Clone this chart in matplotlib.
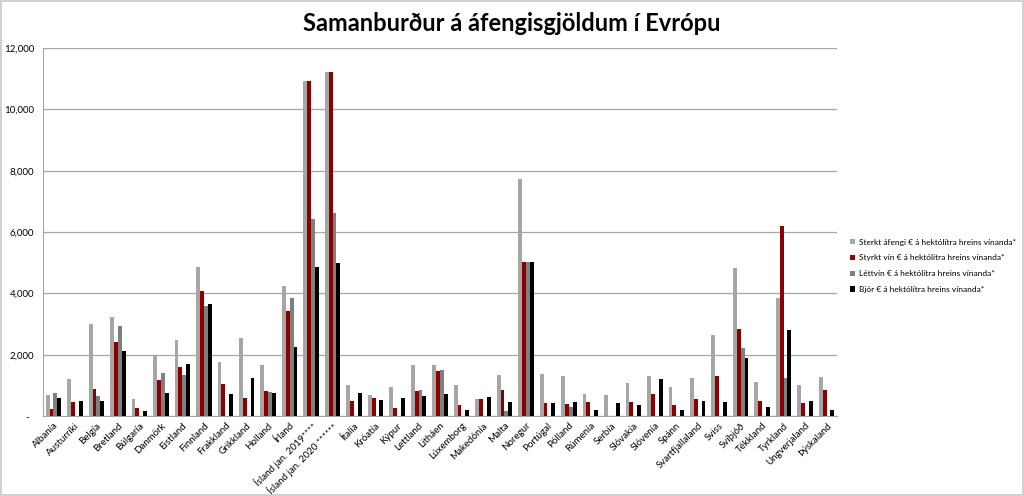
import matplotlib
matplotlib.use('Agg')
import matplotlib.pyplot as plt
from matplotlib.ticker import FuncFormatter
import numpy as np

plt.rcParams['font.family'] = ['Lato', 'DejaVu Sans']

countries = ['Albanía', 'Austurríki', 'Belgía', 'Bretland', 'Búlgaría', 'Danmörk', 'Eistland',
             'Finnland', 'Frakkland', 'Grikkland', 'Holland', 'Írland', 'Ísland jan. 2019****',
             'Ísland jan. 2020 ******', 'Ítalía', 'Króatía', 'Kýpur', 'Lettland', 'Litháen',
             'Lúxemborg', 'Makedónía', 'Malta', 'Noregur', 'Portúgal', 'Pólland', 'Rúmenía',
             'Serbía', 'Slóvakía', 'Slóvenía', 'Spánn', 'Svartfjallaland', 'Sviss', 'Svíþjóð',
             'Tékkland', 'Tyrkland', 'Ungverjaland', 'Þýskaland']

# € per hectolitre of pure alcohol
sterkt = [675, 1196, 2990, 3218, 554, 1978, 2489, 4859, 1750, 2533, 1663, 4250, 10924,
          11207, 1022, 696, 946, 1652, 1652, 1022, 543, 1337, 7729, 1370, 1304, 707,
          685, 1076, 1304, 946, 1239, 2641, 4837, 1109, 3837, 1000, 1283]
styrkt = [240, 446, 880, 2402, 250, 1163, 1598, 4076, 1054, 587, 815, 3413, 10924,
          11207, 478, 587, 250, 815, 1457, 359, 543, 837, 5033, 413, 391, 467,
          0, 456, 728, 348, 554, 1320, 2837, 500, 6210, 413, 848]
lettvin = [739, 0, 663, 2935, 0, 1402, 1337, 3587, 0, 0, 783, 3848, 6413,
           6609, 0, 0, 0, 837, 1489, 0, 0, 174, 5033, 0, 304, 0,
           0, 0, 0, 0, 0, 0, 2228, 0, 1250, 0, 0]
bjor = [576, 500, 500, 2130, 174, 739, 1685, 3641, 728, 1228, 739, 2239, 4859,
        4989, 739, 522, 587, 663, 707, 196, 636, 467, 5033, 413, 446, 185,
        413, 348, 1196, 196, 500, 456, 1885, 300, 2800, 489, 196]

series = [
    ('Sterkt áfengi € á hektólítra hreins vínanda*', sterkt, '#a6a6a6'),
    ('Styrkt vín € á hektólítra hreins vínanda*', styrkt, '#8b0000'),
    ('Léttvín € á hektólítra hreins vínanda*', lettvin, '#7f7f7f'),
    ('Bjór € á hektólítra hreins vínanda*', bjor, '#000000'),
]

fig = plt.figure(figsize=(10.24, 4.96), dpi=100, edgecolor='#d0d0d0', linewidth=1.5)
ax = fig.add_axes([0.0417, 0.161, 0.776, 0.742])

x = np.arange(len(countries))
w = 0.18
offsets = [-1.5 * w, -0.5 * w, 0.5 * w, 1.5 * w]
for (label, vals, color), off in zip(series, offsets):
    ax.bar(x + off, vals, width=w, color=color, label=label, zorder=3)

ax.set_xlim(-0.5, len(countries) - 0.5)
ax.set_ylim(0, 12000)
ax.set_yticks(range(0, 12001, 2000))
ax.yaxis.set_major_formatter(FuncFormatter(lambda v, p: '-  ' if v == 0 else f'{int(v):,}'))
ax.yaxis.grid(True, color='#a6a6a6', linewidth=0.9, zorder=0)
ax.tick_params(axis='both', length=0, labelsize=7)
ax.tick_params(axis='y', pad=6)
ax.set_xticks(x)
ax.set_xticklabels(countries, rotation=45, ha='right', rotation_mode='anchor', fontsize=7)
for side in ['top', 'right']:
    ax.spines[side].set_visible(False)
ax.spines['left'].set_color('#a6a6a6')
ax.spines['bottom'].set_color('#a6a6a6')

fig.suptitle('Samanburður á áfengisgjöldum í Evrópu', fontsize=17, fontweight='bold', y=0.975)

fig.legend(loc='center left', bbox_to_anchor=(0.823, 0.464), frameon=False, fontsize=6,
           handlelength=0.6, handleheight=0.6, handletextpad=0.4, labelspacing=1.05)

plt.savefig('out.png', dpi=100)
